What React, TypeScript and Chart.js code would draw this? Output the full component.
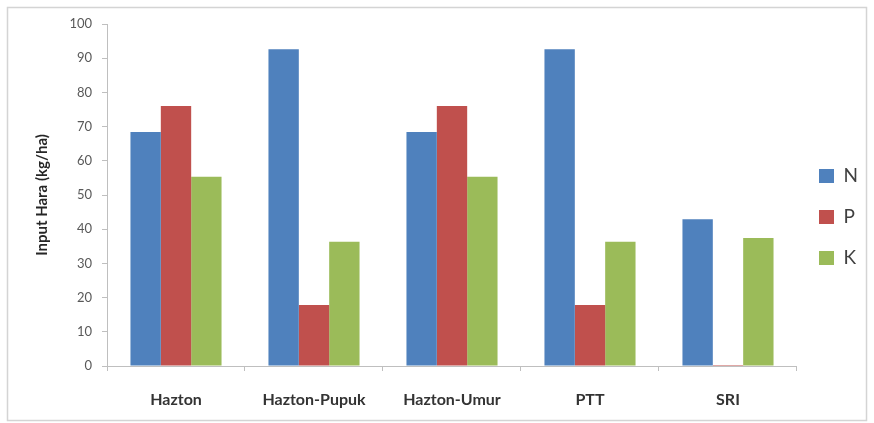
import React, { useEffect, useRef } from "react";
import { Chart, registerables } from "chart.js";

Chart.register(...registerables);

const categories = ["Hazton", "Hazton-Pupuk", "Hazton-Umur", "PTT", "SRI"];
const nValues = [68.4, 92.6, 68.4, 92.6, 42.9];
const pValues = [76.0, 17.8, 76.0, 17.8, 0.3];
const kValues = [55.3, 36.3, 55.3, 36.3, 37.4];
const yTicks = [0, 10, 20, 30, 40, 50, 60, 70, 80, 90, 100];

const FONT = "Lato, 'Open Sans', 'Liberation Sans', sans-serif";

const framePlugin = {
  id: "frame",
  beforeDraw(chart: any) {
    const ctx = chart.ctx;
    ctx.save();
    ctx.fillStyle = "#ffffff";
    ctx.fillRect(0, 0, chart.width, chart.height);
    ctx.strokeStyle = "#d4d4d4";
    ctx.lineWidth = 1.5;
    ctx.strokeRect(7.5, 7.5, 859, 413);
    ctx.restore();
  },
};

export default function App() {
  const ref = useRef<HTMLCanvasElement | null>(null);

  useEffect(() => {
    if (!ref.current) return;
    const chart = new Chart(ref.current, {
      type: "bar",
      data: {
        labels: categories,
        datasets: [
          { label: "N", data: nValues, backgroundColor: "#4F81BD" },
          { label: "P", data: pValues, backgroundColor: "#C0504D" },
          { label: "K", data: kValues, backgroundColor: "#9BBB59" },
        ],
      },
      options: {
        responsive: false,
        animation: false,
        layout: { padding: { left: 20, top: 24, right: 6, bottom: 13 } },
        datasets: {
          bar: { categoryPercentage: 0.66, barPercentage: 1.0 },
        },
        plugins: {
          tooltip: { enabled: false },
          legend: {
            position: "right",
            labels: {
              boxWidth: 15,
              boxHeight: 14,
              padding: 22,
              color: "#404040",
              font: { family: FONT, size: 19 },
            },
          },
        },
        scales: {
          x: {
            grid: {
              display: true,
              offset: true,
              drawOnChartArea: false,
              drawTicks: true,
              tickLength: 5,
              color: "#bfbfbf",
            },
            border: { display: true, color: "#bfbfbf", width: 1 },
            ticks: {
              padding: 19,
              color: "#333333",
              font: { family: FONT, size: 16, weight: "bold" },
              maxRotation: 0,
            },
            afterFit(scale: any) {
              scale.height = 44;
            },
          },
          y: {
            min: 0,
            max: 100,
            afterBuildTicks(scale: any) {
              scale.ticks = yTicks.map((v) => ({ value: v }));
            },
            grid: {
              display: true,
              drawOnChartArea: false,
              drawTicks: true,
              tickLength: 5,
              color: "#bfbfbf",
            },
            border: { display: true, color: "#bfbfbf", width: 1 },
            ticks: {
              padding: 10,
              color: "#595959",
              font: { family: FONT, size: 13 },
            },
            title: {
              display: true,
              text: "Input Hara (kg/ha)",
              color: "#262626",
              font: { family: FONT, size: 15, weight: "bold" },
              padding: { top: 13, bottom: 0 },
            },
            afterFit(scale: any) {
              scale.width = 87;
            },
          },
        },
      },
      plugins: [framePlugin],
    } as any);
    return () => chart.destroy();
  }, []);

  return (
    <div style={{ position: "fixed", left: 0, top: 0, width: 874, height: 423 }}>
      <canvas ref={ref} width={874} height={423} style={{ display: "block" }} />
    </div>
  );
}
